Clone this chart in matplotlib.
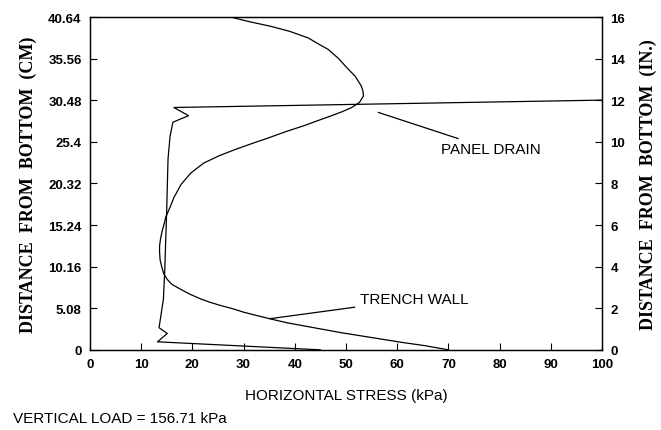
import matplotlib.pyplot as plt
import numpy as np

# panel drain: horizontal stress (kPa) vs distance from bottom (cm)
drain_kpa = [45, 13.2, 15.1, 13.5, 14.35, 14.6, 15.0, 15.25, 15.65, 16.2, 19.25, 16.4, 100]
drain_cm = [0, 0.98, 2.0, 2.7, 6.2, 9.5, 17.2, 23.3, 26.1, 27.8, 28.6, 29.6, 30.5]

# trench wall
wall_kpa = [70, 65.5, 61, 57, 53, 49, 45.5, 42, 38.5, 35.1, 32.5, 30, 28, 25.6, 23.5, 21.7,
            19.5, 17.7, 16.0, 15.1, 14.4, 14.0, 13.7, 13.6, 13.6, 13.8, 14.1, 14.5, 14.8,
            15.7, 16.4, 17.8, 19.7, 22.2, 25.2, 28.5, 32.1, 34.7, 38.0, 41.9, 44.5, 47.2,
            49.3, 51.1, 52.6, 53.4, 53.3, 53.0, 51.8, 50.4, 48.5, 46.5, 44.5, 42.6, 39.0,
            35.4, 31.0, 27.5]
wall_cm = [0, 0.5, 0.9, 1.3, 1.7, 2.1, 2.5, 2.9, 3.3, 3.8, 4.2, 4.6, 5.0, 5.4, 5.8, 6.2,
           6.8, 7.4, 8.0, 8.6, 9.3, 10.2, 11.0, 12.0, 12.7, 13.6, 14.5, 15.4, 16.2,
           17.5, 18.6, 20.2, 21.6, 22.8, 23.7, 24.5, 25.3, 25.85, 26.6, 27.4, 28.0, 28.6,
           29.1, 29.6, 30.2, 31.0, 31.6, 32.2, 33.4, 34.3, 35.6, 36.7, 37.4, 38.1, 38.9,
           39.5, 40.1, 40.64]

cm_ticks = [0, 5.08, 10.16, 15.24, 20.32, 25.4, 30.48, 35.56, 40.64]
cm_labels = ['0', '5.08', '10.16', '15.24', '20.32', '25.4', '30.48', '35.56', '40.64']
in_ticks = [0, 2, 4, 6, 8, 10, 12, 14, 16]

sans = ['Liberation Sans', 'DejaVu Sans']
serif = ['Liberation Serif', 'DejaVu Serif']

fig = plt.figure(figsize=(6.61, 4.31), dpi=100)
ax = fig.add_axes([0.136, 0.186, 0.775, 0.772])

ax.plot(drain_kpa, drain_cm, color='black', lw=0.9)
ax.plot(wall_kpa, wall_cm, color='black', lw=0.9)

ax.set_xlim(0, 100)
ax.set_ylim(0, 40.64)
ax.set_xticks(range(0, 101, 10))
ax.set_yticks(cm_ticks)
ax.set_yticklabels(cm_labels)
ax.tick_params(direction='in', length=5, width=0.8, labelsize=9.5, pad=6)
for lab in ax.get_xticklabels() + ax.get_yticklabels():
    lab.set_family(sans)
    lab.set_fontweight('bold')

ax.set_xlabel('HORIZONTAL STRESS (kPa)', family=sans, fontsize=11, labelpad=13)
ax.set_ylabel('DISTANCE  FROM  BOTTOM  (CM)', family=serif, fontsize=13,
              fontweight='bold', labelpad=8)

ax2 = ax.twinx()
ax2.set_ylim(0, 16)
ax2.set_yticks(in_ticks)
ax2.tick_params(direction='in', length=5, width=0.8, labelsize=9.5, pad=6)
for lab in ax2.get_yticklabels():
    lab.set_family(sans)
    lab.set_fontweight('bold')
ax2.set_ylabel('DISTANCE  FROM  BOTTOM  (IN.)', family=serif, fontsize=13,
               fontweight='bold', labelpad=10)

for a in (ax, ax2):
    for s in a.spines.values():
        s.set_linewidth(0.9)

# labels with leader lines
ax.annotate('PANEL DRAIN', xy=(56.3, 29.0), xytext=(68.5, 24.5), va='center',
            family=sans, fontsize=11,
            arrowprops=dict(arrowstyle='-', color='black', lw=0.9, shrinkA=2, shrinkB=0))
ax.annotate('TRENCH WALL', xy=(35.1, 3.8), xytext=(52.8, 6.2), va='center',
            family=sans, fontsize=11,
            arrowprops=dict(arrowstyle='-', color='black', lw=0.9, shrinkA=2, shrinkB=0))

fig.text(0.02, 0.028, 'VERTICAL LOAD = 156.71 kPa', family=sans, fontsize=11, va='center')

plt.savefig('out.png', dpi=100)
